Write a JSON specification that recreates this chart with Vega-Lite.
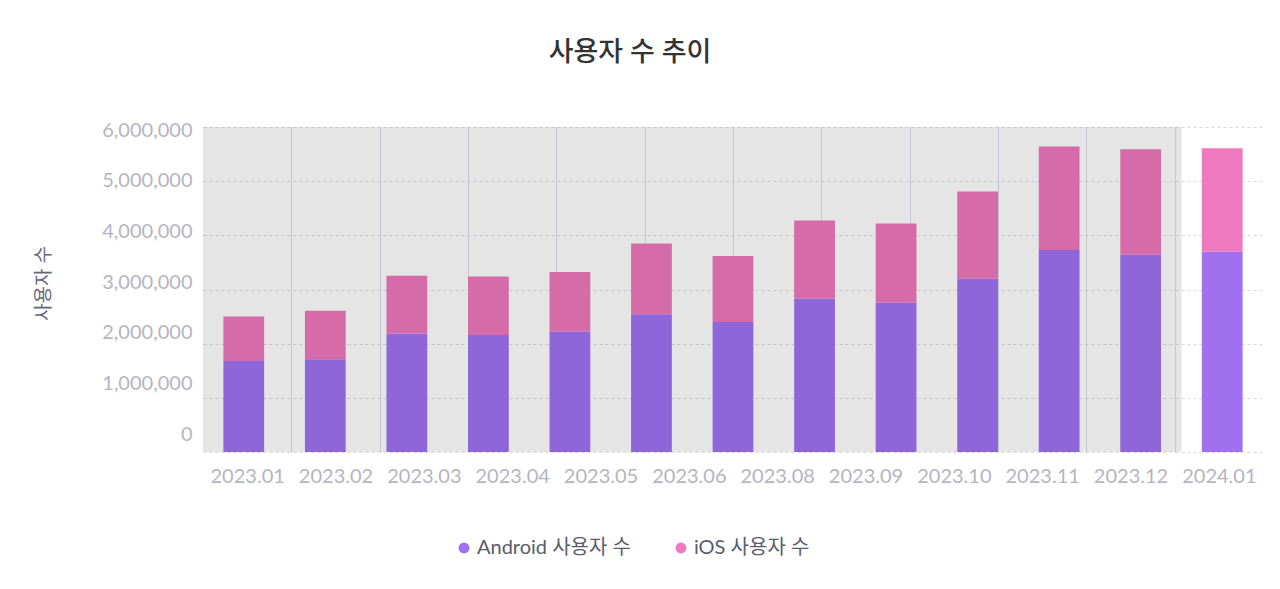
{
  "$schema": "https://vega.github.io/schema/vega-lite/v6.json",
  "width": 1060,
  "height": 325,
  "autosize": {"type": "none"},
  "padding": {"left": 203, "top": 127, "right": 17, "bottom": 137},
  "background": "#ffffff",
  "config": {
    "font": "Lato, Noto Sans CJK KR, sans-serif",
    "view": {"stroke": null}
  },
  "title": {
    "text": "사용자 수 추이",
    "fontSize": 27,
    "fontWeight": 500,
    "color": "#333333",
    "anchor": "middle",
    "frame": "group",
    "dx": -103,
    "offset": 32,
    "baseline": "alphabetic"
  },
  "datasets": {
    "users": [
      {"month": "2023.01", "series": "Android 사용자 수", "users": 1682000},
      {"month": "2023.01", "series": "iOS 사용자 수", "users": 818000},
      {"month": "2023.02", "series": "Android 사용자 수", "users": 1712000},
      {"month": "2023.02", "series": "iOS 사용자 수", "users": 896000},
      {"month": "2023.03", "series": "Android 사용자 수", "users": 2188000},
      {"month": "2023.03", "series": "iOS 사용자 수", "users": 1064000},
      {"month": "2023.04", "series": "Android 사용자 수", "users": 2161000},
      {"month": "2023.04", "series": "iOS 사용자 수", "users": 1077000},
      {"month": "2023.05", "series": "Android 사용자 수", "users": 2224000},
      {"month": "2023.05", "series": "iOS 사용자 수", "users": 1097000},
      {"month": "2023.06", "series": "Android 사용자 수", "users": 2541000},
      {"month": "2023.06", "series": "iOS 사용자 수", "users": 1306000},
      {"month": "2023.07", "series": "Android 사용자 수", "users": 2402000},
      {"month": "2023.07", "series": "iOS 사용자 수", "users": 1218000},
      {"month": "2023.08", "series": "Android 사용자 수", "users": 2833000},
      {"month": "2023.08", "series": "iOS 사용자 수", "users": 1440000},
      {"month": "2023.09", "series": "Android 사용자 수", "users": 2760000},
      {"month": "2023.09", "series": "iOS 사용자 수", "users": 1458000},
      {"month": "2023.10", "series": "Android 사용자 수", "users": 3198000},
      {"month": "2023.10", "series": "iOS 사용자 수", "users": 1611000},
      {"month": "2023.11", "series": "Android 사용자 수", "users": 3727000},
      {"month": "2023.11", "series": "iOS 사용자 수", "users": 1913000},
      {"month": "2023.12", "series": "Android 사용자 수", "users": 3641000},
      {"month": "2023.12", "series": "iOS 사용자 수", "users": 1950000},
      {"month": "2024.01", "series": "Android 사용자 수", "users": 3695300},
      {"month": "2024.01", "series": "iOS 사용자 수", "users": 1914105}
    ],
    "labels": [
      {"label": "2023.01"}, {"label": "2023.02"}, {"label": "2023.03"}, {"label": "2023.04"},
      {"label": "2023.05"}, {"label": "2023.06"}, {"label": "2023.08"}, {"label": "2023.09"},
      {"label": "2023.10"}, {"label": "2023.11"}, {"label": "2023.12"}, {"label": "2024.01"}
    ]
  },
  "layer": [
    {
      "data": {"name": "labels"},
      "mark": {"type": "bar", "opacity": 0},
      "encoding": {
        "x": {
          "field": "label",
          "type": "nominal",
          "sort": null,
          "scale": {"type": "band", "paddingInner": 0, "paddingOuter": 0},
          "axis": {
            "orient": "bottom",
            "title": null,
            "labelAngle": 0,
            "labelFontSize": 20,
            "labelColor": "#b5b5c1",
            "labelPadding": 14,
            "labelOverlap": false,
            "ticks": false,
            "domain": false,
            "grid": true,
            "tickBand": "extent",
            "gridColor": "#dcdce8",
            "gridOpacity": {"condition": {"test": "datum.index < 0 || datum.index >= 1", "value": 0}, "value": 1}
          }
        },
        "y": {
          "datum": 0,
          "type": "quantitative",
          "scale": {"domain": [-351000, 6065000], "nice": false, "zero": false},
          "axis": {
            "orient": "left",
            "values": [0, 1000000, 2000000, 3000000, 4000000, 5000000, 6000000],
            "format": ",d",
            "grid": false,
            "ticks": false,
            "domain": false,
            "labelFontSize": 20,
            "labelColor": "#b5b5c1",
            "labelPadding": 11,
            "title": "사용자 수",
            "titleFontSize": 19,
            "titleFontWeight": "normal",
            "titleColor": "#646778",
            "titleX": -160,
            "titleY": 156,
            "titleAngle": 270,
            "titleAlign": "center",
            "titleBaseline": "middle"
          }
        }
      }
    },
    {
      "data": {"name": "users"},
      "layer": [
        {
          "transform": [{"filter": "datum.series === 'Android 사용자 수' && datum.month !== '2024.01'"}],
          "mark": {"type": "rect", "color": "#000000", "opacity": 0.1},
          "encoding": {
            "x": {"field": "month", "type": "nominal", "scale": {"paddingInner": 0, "paddingOuter": 0}, "axis": null},
            "y": {"datum": 0, "type": "quantitative"},
            "y2": {"datum": 6000000}
          }
        },
        {
          "mark": {"type": "bar", "width": {"band": 0.5}},
          "encoding": {
            "x": {"field": "month", "type": "nominal", "scale": {"paddingInner": 0, "paddingOuter": 0}, "axis": null},
            "y": {
              "field": "users",
              "type": "quantitative",
              "stack": "zero",
              "scale": {"domain": [0, 6000000], "nice": false},
              "axis": {
                "orient": "left",
                "values": [0, 1000000, 2000000, 3000000, 4000000, 5000000, 6000000],
                "labels": false,
                "ticks": false,
                "domain": false,
                "title": null,
                "grid": true,
                "gridColor": "#d9d9de",
                "gridDash": [3, 3]
              }
            },
            "order": {"field": "series", "sort": "ascending"},
            "color": {
              "condition": [
                {"test": "datum.month !== '2024.01' && datum.series === 'Android 사용자 수'", "value": "#8f66d9"},
                {"test": "datum.month !== '2024.01' && datum.series === 'iOS 사용자 수'", "value": "#d56ba9"}
              ],
              "field": "series",
              "type": "nominal",
              "scale": {"domain": ["Android 사용자 수", "iOS 사용자 수"], "range": ["#a070ef", "#ef79bf"]},
              "legend": {
                "title": null,
                "orient": "none",
                "legendX": 251,
                "legendY": 411,
                "direction": "horizontal",
                "symbolType": "circle",
                "symbolSize": 120,
                "symbolStrokeWidth": 0,
                "labelFontSize": 20,
                "labelColor": "#585c6c",
                "labelOffset": 3,
                "columnPadding": 40,
                "padding": 0
              }
            }
          }
        }
      ]
    }
  ],
  "resolve": {
    "scale": {"x": "independent", "y": "independent"},
    "axis": {"x": "independent", "y": "independent"}
  }
}
